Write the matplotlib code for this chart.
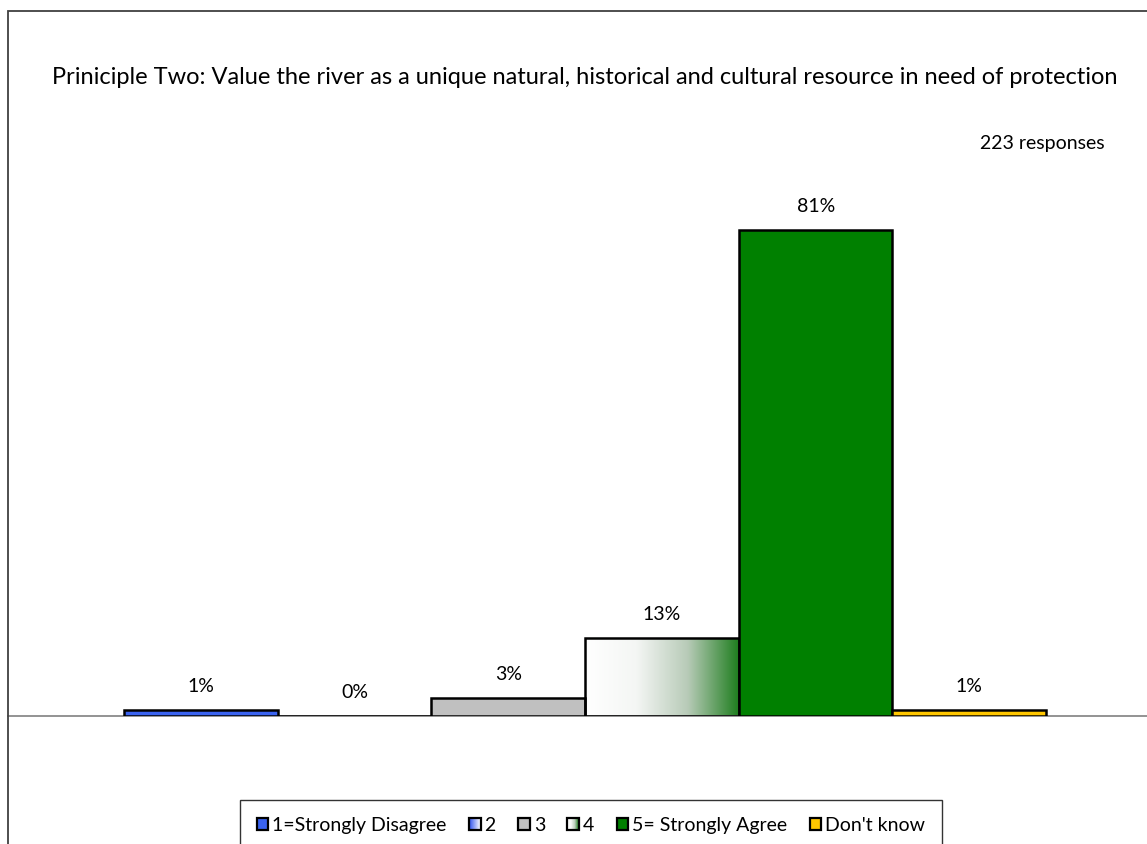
import numpy as np
import matplotlib
matplotlib.use("Agg")
import matplotlib.pyplot as plt
from matplotlib.patches import Rectangle
from matplotlib.colors import LinearSegmentedColormap, to_rgb
from matplotlib.legend_handler import HandlerBase

plt.rcParams['font.family'] = ['Lato', 'DejaVu Sans']

# Survey responses for principle two
categories = ["1=Strongly Disagree", "2", "3", "4", "5= Strongly Agree", "Don't know"]
percent = [1, 0, 3, 13, 81, 1]
value_labels = ["1%", "0%", "3%", "13%", "81%", "1%"]
title = ("Priniciple Two: Value the river as a unique natural, historical and "
         "cultural resource in need of protection")
responses_note = "223 responses"

# fill styles: solid colour or list of gradient stops (left to right)
fills = ["#3A63F0", ["#3355EE", "#FFFFFF"], "#C0C0C0",
         ["#FFFFFF", "#F4F6F4", "#B8CBB8", "#1F7E1F"], "#008000", "#FFC600"]

W, H = 1147, 844
fig = plt.figure(figsize=(W / 100, H / 100), dpi=100)

# chart border
fig.patches.append(Rectangle((8 / W, -0.1), 1.2, 1 - 11.5 / H + 0.1,
                             transform=fig.transFigure, fill=False,
                             edgecolor="#404040", linewidth=1.3, zorder=0))

ax = fig.add_axes([8 / W, (H - 716) / H, 1 - 8 / W, (716 - 11.5) / H])
for s in ["left", "right", "top"]:
    ax.spines[s].set_visible(False)
ax.spines["bottom"].set_color("#808080")
ax.spines["bottom"].set_linewidth(1.2)
ax.set_xticks([])
ax.set_yticks([])
ax.patch.set_alpha(0)

x = np.arange(len(categories))


def gradient_cmap(stops):
    return LinearSegmentedColormap.from_list("g", [to_rgb(c) for c in stops])


bars = []
for i, (val, f) in enumerate(zip(percent, fills)):
    face = f if isinstance(f, str) else "none"
    b = ax.bar(x[i], val, width=1.0, color=face, edgecolor="black",
               linewidth=1.8, zorder=3)[0]
    bars.append(b)
    if not isinstance(f, str) and val > 0:
        grad = np.linspace(0, 1, 256).reshape(1, -1)
        im = ax.imshow(grad, cmap=gradient_cmap(f), aspect="auto",
                       extent=[b.get_x(), b.get_x() + b.get_width(), 0, val],
                       zorder=2.5, interpolation="bilinear")
        im.set_clip_path(b)
ax.set_xlim(-1.255, 6.156)
ax.set_ylim(0, 117.5)

for b, lab in zip(bars, value_labels):
    ax.annotate(lab, (b.get_x() + b.get_width() / 2, b.get_height()),
                xytext=(0, 11), textcoords="offset points",
                ha="center", va="bottom", fontsize=14, color="black")

fig.text(585 / W, 1 - 77 / H, title, ha="center", va="center", fontsize=17)
fig.text(1105 / W, 1 - 143 / H, responses_note, ha="right", va="center",
         fontsize=14)


class GradientHandler(HandlerBase):
    def __init__(self, stops):
        super().__init__()
        self.stops = stops

    def create_artists(self, legend, orig_handle, xdescent, ydescent,
                       width, height, fontsize, trans):
        arts = []
        n = 12
        cmap = gradient_cmap(self.stops)
        for k in range(n):
            r = Rectangle((-xdescent + width * k / n, -ydescent), width / n,
                          height, facecolor=cmap(k / (n - 1)),
                          edgecolor="none", transform=trans)
            arts.append(r)
        arts.append(Rectangle((-xdescent, -ydescent), width, height,
                              facecolor="none", edgecolor="black",
                              linewidth=1.6, transform=trans))
        return arts


handles = []
handler_map = {}
for i, f in enumerate(fills):
    if isinstance(f, str):
        h = Rectangle((0, 0), 1, 1, facecolor=f, edgecolor="black",
                      linewidth=1.6)
    else:
        h = Rectangle((0, 0), 1, 1, facecolor="white", edgecolor="black")
        handler_map[h] = GradientHandler(f)
    handles.append(h)

leg = fig.legend(handles, categories, handler_map=handler_map,
                 loc="upper center", bbox_to_anchor=(591 / W, 1 - 800 / H),
                 ncol=6, fontsize=14, frameon=True, fancybox=False,
                 edgecolor="black", handlelength=0.6, handleheight=0.6,
                 handletextpad=0.2, columnspacing=1.15, borderpad=0.85,
                 borderaxespad=0)
leg.get_frame().set_linewidth(1.0)

fig.savefig("out.png", dpi=100)
